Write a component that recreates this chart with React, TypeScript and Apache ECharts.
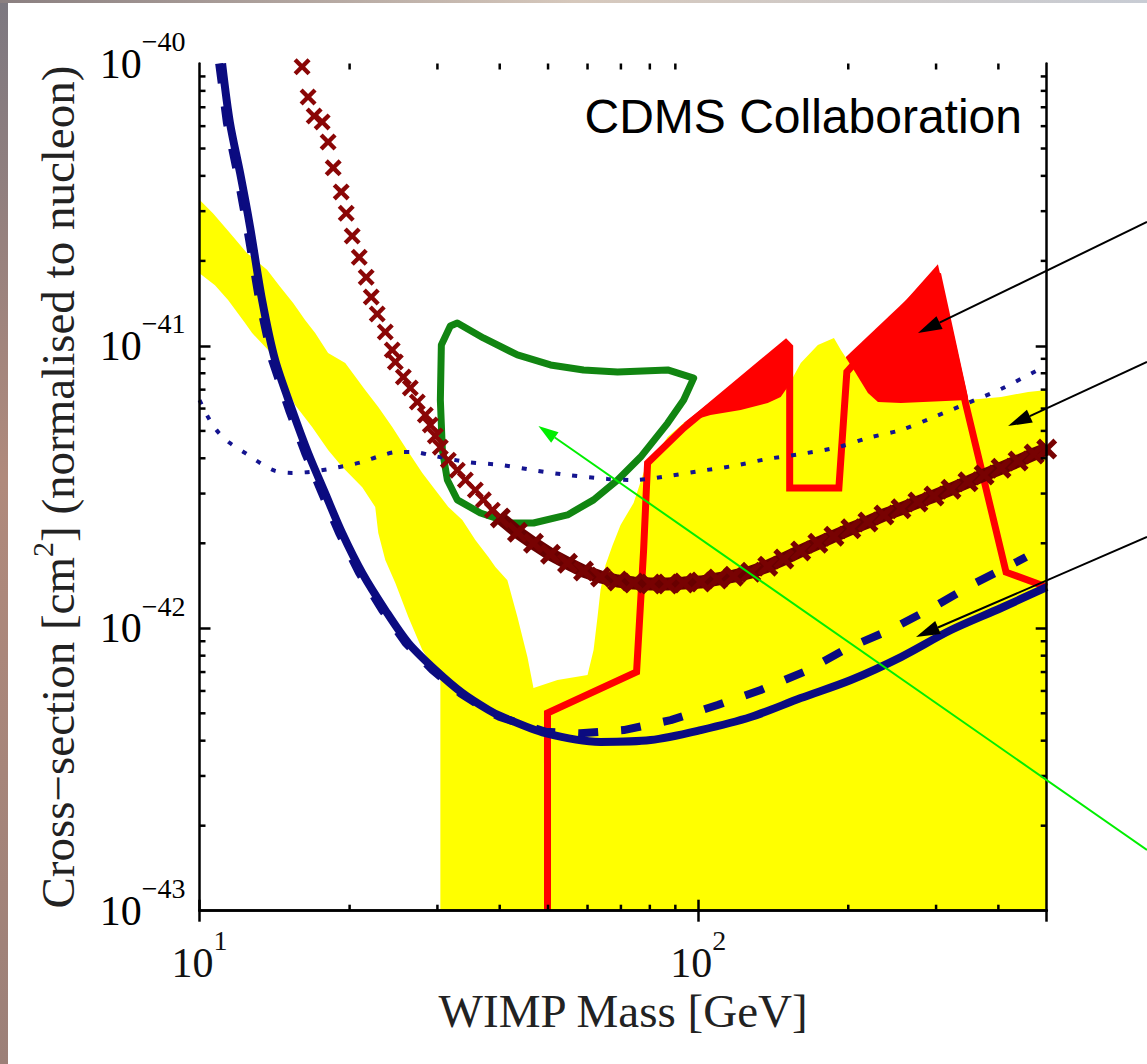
import React, { useEffect, useRef } from 'react';
import * as echarts from 'echarts';

const W = 1147;
const H = 1064;

// ---- axes ----
const massRange = [10, 500];
const sigmaRange = [1e-43, 1e-40];
const sigmaMajorTicks = [1e-43, 1e-42, 1e-41, 1e-40];
const sigmaTickExponents = ['\u221243', '\u221242', '\u221241', '\u221240'];
const minorMassTicks = [20, 30, 40, 50, 60, 70, 80, 90, 200, 300, 400];
const minorSigmaTicks = [
  2e-43, 3e-43, 4e-43, 5e-43, 6e-43, 7e-43, 8e-43, 9e-43,
  2e-42, 3e-42, 4e-42, 5e-42, 6e-42, 7e-42, 8e-42, 9e-42,
  2e-41, 3e-41, 4e-41, 5e-41, 6e-41, 7e-41, 8e-41, 9e-41,
];

// ---- series [mass GeV, cross-section cm^2] ----
const cdmsSolid = [
  [11.1, 1.0e-40], [11.51, 6.16e-41], [12.06, 4.1e-41], [12.63, 2.64e-41], [13.35, 1.455e-41],
  [14.18, 8.91e-42], [15.34, 5.93e-42], [16.51, 4.18e-42], [17.86, 3.01e-42], [19.32, 2.175e-42],
  [21.2, 1.57e-42], [23.58, 1.16e-42], [26.23, 8.87e-43], [29.71, 7.12e-43], [33.66, 5.9e-43],
  [37.96, 5.14e-43], [40.12, 4.89e-43], [49.41, 4.25e-43], [63.71, 3.96e-43], [80.28, 4.02e-43],
  [101.2, 4.36e-43], [127.5, 4.85e-43], [160.6, 5.66e-43], [202.4, 6.56e-43], [255.1, 7.91e-43],
  [321.4, 9.86e-43], [405, 1.18e-42], [500, 1.4e-42],
];

const cdmsDashed = [
  [10.95, 1.0e-40], [11.35, 6.16e-41], [11.9, 4.1e-41], [12.45, 2.64e-41], [13.17, 1.455e-41],
  [13.98, 8.91e-42], [15.12, 5.93e-42], [16.28, 4.18e-42], [17.6, 3.01e-42], [19.05, 2.175e-42],
  [20.9, 1.57e-42], [23.25, 1.16e-42], [25.9, 8.87e-43], [29.3, 7.12e-43], [33.3, 5.9e-43],
  [37.6, 5.14e-43], [40.0, 4.85e-43], [49.5, 4.3e-43], [58.0, 4.25e-43], [70.9, 4.36e-43],
  [88.1, 4.73e-43], [109.4, 5.35e-43], [133.5, 6.05e-43], [162.8, 7.0e-43], [199.6, 8.51e-43],
  [242.4, 9.86e-43], [294.4, 1.18e-42], [359.2, 1.446e-42], [436.1, 1.72e-42], [454.6, 1.79e-42],
];

const dottedLimit = [
  [10.0, 6.43e-42], [10.4, 5.6e-42], [10.89, 4.96e-42], [11.51, 4.53e-42], [12.34, 4.18e-42],
  [13.23, 3.85e-42], [14.18, 3.61e-42], [15.34, 3.55e-42], [16.67, 3.58e-42], [18.11, 3.66e-42],
  [19.6, 3.76e-42], [21.2, 3.88e-42], [23.04, 4.08e-42], [24.93, 4.21e-42], [26.84, 4.21e-42],
  [29.44, 4.08e-42], [34.44, 3.88e-42], [40.12, 3.79e-42], [46.75, 3.63e-42], [54.7, 3.49e-42],
  [65.81, 3.38e-42], [74.22, 3.35e-42], [86.87, 3.46e-42], [101.2, 3.61e-42], [117.8, 3.76e-42],
  [137.9, 3.98e-42], [160.6, 4.14e-42], [190.6, 4.38e-42], [219.0, 4.72e-42], [255.1, 5.04e-42],
  [297.1, 5.6e-42], [347.6, 6.28e-42], [405, 7.04e-42], [476.2, 8.15e-42], [500, 8.49e-42],
];

const crossesSparse = [
  [16.06, 9.74e-41], [16.51, 7.61e-41], [16.98, 6.52e-41], [17.62, 6.21e-41], [18.11, 5.27e-41],
  [18.54, 4.27e-41], [19.24, 3.51e-41], [19.69, 2.95e-41], [20.24, 2.45e-41], [20.91, 2.06e-41],
  [21.59, 1.75e-41], [22.1, 1.49e-41], [22.72, 1.297e-41], [23.58, 1.12e-41], [24.35, 9.67e-42],
  [24.7, 8.77e-42], [25.63, 7.76e-42], [26.47, 7.1e-42], [27.34, 6.33e-42], [28.37, 5.69e-42],
  [29.03, 5.25e-42], [29.71, 4.8e-42], [30.41, 4.38e-42], [31.55, 3.94e-42], [32.89, 3.63e-42],
  [34.13, 3.35e-42], [35.74, 3.09e-42], [37.09, 2.85e-42], [38.66, 2.62e-42],
];

const crossesBand = [
  [40.12, 2.46e-42], [43.41, 2.19e-42], [46.75, 2.0e-42], [50.57, 1.83e-42], [54.7, 1.7e-42],
  [58.9, 1.595e-42], [63.71, 1.52e-42], [68.93, 1.47e-42], [74.22, 1.446e-42], [80.28, 1.435e-42],
  [86.87, 1.435e-42], [93.52, 1.446e-42], [101.2, 1.458e-42], [109.4, 1.495e-42], [117.8, 1.53e-42],
  [127.5, 1.58e-42], [137.9, 1.66e-42], [148.5, 1.76e-42], [160.6, 1.88e-42], [173.8, 2.0e-42],
  [187.2, 2.12e-42], [202.4, 2.25e-42], [219.0, 2.38e-42], [235.8, 2.52e-42], [255.1, 2.65e-42],
  [275.9, 2.8e-42], [297.1, 2.94e-42], [321.4, 3.11e-42], [347.6, 3.3e-42], [374.5, 3.49e-42],
  [405, 3.69e-42], [438.1, 3.91e-42], [471.8, 4.14e-42], [500, 4.31e-42],
];

const yellowRegion = [
  [10.0, 3.29e-41], [10.64, 2.95e-41], [11.51, 2.51e-41], [12.46, 2.13e-41], [13.66, 1.86e-41],
  [14.51, 1.62e-41], [15.41, 1.42e-41], [16.28, 1.235e-41], [17.06, 1.11e-41], [18.11, 9.44e-42],
  [19.6, 8.7e-42], [21.49, 6.98e-42], [22.83, 6.08e-42], [24.35, 5.16e-42], [25.86, 4.38e-42],
  [27.98, 3.55e-42], [29.71, 3.09e-42], [31.55, 2.69e-42], [33.66, 2.42e-42], [35.74, 2.055e-42],
  [37.96, 1.79e-42], [39.21, 1.65e-42], [41.44, 1.48e-42], [43.41, 1.097e-42], [45.46, 7.91e-43],
  [46.75, 6.15e-43], [52.23, 6.56e-43], [60.0, 6.83e-43], [61.7, 8.38e-43], [62.83, 1.097e-42],
  [63.71, 1.367e-42], [65.2, 1.675e-42], [67.35, 1.97e-42], [69.89, 2.32e-42], [74.22, 2.78e-42],
  [78.45, 3.73e-42], [84.09, 4.38e-42], [86.87, 4.76e-42], [93.52, 5.33e-42], [105.9, 5.69e-42],
  [121.7, 5.93e-42], [137.9, 6.28e-42], [146.4, 6.59e-42], [151.2, 7.15e-42], [160.6, 8.7e-42],
  [173.8, 1.007e-41], [187.2, 1.067e-41], [193.3, 9.67e-42], [205.2, 8.22e-42], [219.0, 6.81e-42],
  [229.4, 6.33e-42], [255.1, 6.28e-42], [347.6, 6.43e-42], [405.0, 6.59e-42], [458.9, 6.87e-42],
  [500, 6.98e-42], [500, 1e-43], [30.41, 1e-43], [30.41, 6.72e-43], [27.98, 8.38e-43],
  [26.23, 1.097e-42], [24.7, 1.446e-42], [23.58, 1.745e-42], [22.83, 2.175e-42], [22.51, 2.69e-42],
  [21.2, 3.16e-42], [19.32, 3.73e-42], [18.11, 4.28e-42], [16.82, 5.16e-42], [15.55, 6.18e-42],
  [14.64, 7.76e-42], [13.73, 9.67e-42], [12.75, 1.11e-41], [12.34, 1.205e-41], [11.41, 1.455e-41],
  [10.74, 1.64e-41], [10.0, 1.81e-41],
];

const redFillA = [[93.52, 5.33e-42], [149.9, 1.024e-41], [153.3, 1.007e-41], [153.3, 4.96e-42], [93.52, 4.96e-42]];
const redFillB = [[197.8, 9.14e-42], [299.9, 1.83e-41], [306.9, 1.81e-41], [347.6, 6.59e-42], [347.6, 4.96e-42], [197.8, 4.96e-42]];

const redLimit = [
  [49.87, 1e-43], [49.87, 5.01e-43], [75.25, 7.0e-43], [77.73, 1.89e-42], [79.17, 3.85e-42],
  [93.52, 5.12e-42], [149.9, 1.024e-41], [152.6, 9.91e-42], [152.6, 3.14e-42], [191.5, 3.14e-42],
  [198.7, 8.08e-42], [299.9, 1.83e-41], [344.4, 6.18e-42], [414.5, 1.58e-42], [500, 1.4e-42],
];

const greenContour = [
  [30.55, 1.007e-41], [31.84, 1.176e-41], [32.89, 1.205e-41], [37.09, 1.067e-41], [43.41, 9.29e-42],
  [50.57, 8.56e-42], [58.9, 8.22e-42], [68.93, 8.08e-42], [86.87, 8.22e-42], [97.95, 7.69e-42],
  [93.52, 6.43e-42], [86.87, 5.33e-42], [76.65, 4.04e-42], [68.93, 3.35e-42], [61.7, 2.85e-42],
  [54.7, 2.52e-42], [46.75, 2.36e-42], [42.02, 2.36e-42], [36.58, 2.56e-42], [32.89, 2.85e-42],
  [31.41, 3.35e-42], [30.69, 4.28e-42], [30.41, 6.43e-42],
];

// annotation arrows: tail at the page edge (px), tip in data space
const arrowTails = [[1147, 222], [1147, 362], [1147, 537], [1147, 850]];
const arrowTips = [[275.9, 1.11e-41], [418.3, 5.2e-42], [273.4, 9.31e-43], [47.83, 5.2e-42]];
const arrowColors = ['#000000', '#000000', '#000000', '#00ee00'];

const SERIF = 'Liberation Serif, Times New Roman, serif';
const SANS = 'Liberation Sans, Arial, sans-serif';
const CROSS = 'path://M0,1.8 L1.8,0 L5,3.2 L8.2,0 L10,1.8 L6.8,5 L10,8.2 L8.2,10 L5,6.8 L1.8,10 L0,8.2 L3.2,5 Z';

function polygonSeries(pts: number[][], style: any, z: number) {
  return {
    type: 'custom',
    silent: true,
    z,
    data: pts,
    renderItem: (params: any, api: any) => {
      if (params.dataIndex !== 0) return null;
      const points = pts.map((p) => api.coord(p));
      return { type: 'polygon', shape: { points }, style };
    },
  };
}

export default function App() {
  const ref = useRef<HTMLDivElement>(null);
  useEffect(() => {
    const el = ref.current!;
    const chart = echarts.init(el, null, { renderer: 'svg' });

    const labelRich: any = {
      b: { fontFamily: SERIF, fontSize: 42, lineHeight: 72, color: '#111' },
      s: { fontFamily: SERIF, fontSize: 28, lineHeight: 28, verticalAlign: 'top', color: '#111' },
    };
    const isPow = (v: number) => {
      const e = Math.log10(v);
      return Math.abs(e - Math.round(e)) < 1e-6 ? Math.round(e) : null;
    };
    const tickStyle = { show: true, inside: true, length: 11, lineStyle: { color: '#000', width: 2.5 } };
    const lineStyleAxis = { show: true, lineStyle: { color: '#000', width: 2.5 } };

    const option: any = {
      animation: false,
      backgroundColor: '#ffffff',
      grid: { left: 199.5, top: 63.5, right: 100.3, bottom: 153.3, containLabel: false, outerBoundsMode: 'none' },
      xAxis: [
        {
          type: 'log', logBase: 10, min: massRange[0], max: massRange[1], z: 20,
          axisLine: lineStyleAxis, axisTick: tickStyle, splitLine: { show: false },
          axisLabel: {
            margin: 16, showMinLabel: true, showMaxLabel: false, hideOverlap: false,
            formatter: (v: number) => { const e = isPow(v); return e === null ? '' : `{b|10}{s|${e}}`; },
            rich: labelRich,
          },
          name: 'WIMP Mass [GeV]', nameLocation: 'middle', nameGap: 76, nameMoveOverlap: false,
          nameTextStyle: { fontFamily: SERIF, fontSize: 47, color: '#222', lineHeight: 48 },
        },
        {
          type: 'log', logBase: 10, min: massRange[0], max: massRange[1], position: 'top', z: 20,
          axisLine: lineStyleAxis, axisTick: tickStyle, axisLabel: { show: false }, splitLine: { show: false },
        },
      ],
      yAxis: [
        {
          type: 'log', logBase: 10, min: sigmaRange[0], max: sigmaRange[1], z: 20,
          axisLine: lineStyleAxis, axisTick: tickStyle, splitLine: { show: false },
          axisLabel: { show: false },
          name: 'Cross\u2212section [cm{sup|2}] (normalised to nucleon)', nameLocation: 'middle', nameGap: 112,
          nameMoveOverlap: false,
          nameTextStyle: {
            fontFamily: SERIF, fontSize: 47, color: '#222', lineHeight: 60,
            rich: { sup: { fontFamily: SERIF, fontSize: 30, lineHeight: 30, verticalAlign: 'top', color: '#222' } },
          },
        },
        {
          type: 'log', logBase: 10, min: sigmaRange[0], max: sigmaRange[1], position: 'right', z: 20,
          axisLine: lineStyleAxis, axisTick: tickStyle, axisLabel: { show: false }, splitLine: { show: false },
        },
      ],
      series: [
        polygonSeries(redFillA, { fill: '#ff0000' }, 1),
        polygonSeries(redFillB, { fill: '#ff0000' }, 1),
        polygonSeries(yellowRegion, { fill: '#ffff00' }, 2),
        {
          type: 'line', data: redLimit, z: 3, symbol: 'none', silent: true,
          lineStyle: { color: '#ff0000', width: 7, join: 'miter' },
        },
        polygonSeries(greenContour, { fill: 'none', stroke: '#118511', lineWidth: 7, lineJoin: 'round' }, 4),
        {
          type: 'line', data: dottedLimit, z: 5, symbol: 'none', silent: true, smooth: 0.3,
          lineStyle: { color: '#141490', width: 4, type: [5, 12] },
        },
        {
          type: 'line', data: crossesBand, z: 6, symbol: CROSS, symbolSize: 21, showSymbol: true, showAllSymbol: true, silent: true,
          itemStyle: { color: '#780202', opacity: 1 }, lineStyle: { color: '#680000', width: 13 },
        },
        {
          type: 'scatter', data: crossesSparse, z: 6, symbol: CROSS, symbolSize: 17, silent: true,
          itemStyle: { color: '#8a0606', opacity: 1 },
        },
        {
          type: 'line', data: cdmsDashed, z: 7, symbol: 'none', silent: true,
          lineStyle: { color: '#0b0b80', width: 8, type: [20, 23] },
        },
        {
          type: 'line', data: cdmsSolid, z: 8, symbol: 'none', silent: true, smooth: 0.3,
          lineStyle: { color: '#0b0b80', width: 8 },
        },
        {
          type: 'custom', z: 20, silent: true,
          data: minorMassTicks.map((m) => [m, sigmaRange[0]]),
          renderItem: (params: any, api: any) => {
            const v = api.value(0);
            const b = api.coord([v, sigmaRange[0]]);
            const t = api.coord([v, sigmaRange[1]]);
            const st = { stroke: '#000', lineWidth: 2.5 };
            return {
              type: 'group', children: [
                { type: 'line', shape: { x1: b[0], y1: b[1], x2: b[0], y2: b[1] - 6 }, style: st },
                { type: 'line', shape: { x1: t[0], y1: t[1], x2: t[0], y2: t[1] + 6 }, style: st },
              ],
            };
          },
        },
        {
          type: 'custom', z: 20, silent: true,
          data: minorSigmaTicks.map((s) => [massRange[0], s]),
          renderItem: (params: any, api: any) => {
            const v = api.value(1);
            const l = api.coord([massRange[0], v]);
            const r = api.coord([massRange[1], v]);
            const st = { stroke: '#000', lineWidth: 2.5 };
            return {
              type: 'group', children: [
                { type: 'line', shape: { x1: l[0], y1: l[1], x2: l[0] + 6, y2: l[1] }, style: st },
                { type: 'line', shape: { x1: r[0], y1: r[1], x2: r[0] - 6, y2: r[1] }, style: st },
              ],
            };
          },
        },
      ],
    };
    chart.setOption(option);

    const toPx = (v: number[]) => chart.convertToPixel({ xAxisIndex: 0, yAxisIndex: 0 }, v) as unknown as number[];
    const graphics: any[] = [];
    graphics.push({
      type: 'rect', z: 200, silent: true, shape: { x: 0, y: 0, width: 8, height: H },
      style: {
        fill: new echarts.graphic.LinearGradient(0, 0, 0, 1, [
          { offset: 0, color: '#7c7880' }, { offset: 0.45, color: '#b08a7c' }, { offset: 1, color: '#9c8078' },
        ]),
      },
    });
    graphics.push({
      type: 'rect', z: 200, silent: true, shape: { x: 0, y: 0, width: W, height: 3 },
      style: {
        fill: new echarts.graphic.LinearGradient(0, 0, 1, 0, [
          { offset: 0, color: '#8a7f80' }, { offset: 0.5, color: '#d6c8bc' }, { offset: 1, color: '#c8ccd4' },
        ]),
      },
    });
    // y tick labels placed on the y axis scale
    sigmaMajorTicks.forEach((s, i) => {
      const p = toPx([massRange[0], s]);
      graphics.push({
        type: 'text', z: 150, silent: true, x: p[0] - 14, y: p[1],
        style: {
          text: `{b|10}{s|${sigmaTickExponents[i]}}`, rich: labelRich,
          align: 'right', verticalAlign: 'middle',
        },
      });
    });
    graphics.push({
      type: 'text', z: 150, silent: true, x: 1022, y: 116,
      style: { text: 'CDMS Collaboration', font: `48px ${SANS}`, fill: '#000', align: 'right', verticalAlign: 'middle' },
    });
    arrowTails.forEach((tail, i) => {
      const tip = toPx(arrowTips[i]);
      const color = arrowColors[i];
      const green = i === 3;
      const L = green ? 20 : 24;
      const hw = green ? 6.5 : 7;
      const dx = tip[0] - tail[0];
      const dy = tip[1] - tail[1];
      const len = Math.hypot(dx, dy);
      const ux = dx / len, uy = dy / len;
      const nx = -uy, ny = ux;
      const bx = tip[0] - ux * L, by = tip[1] - uy * L;
      graphics.push({
        type: 'line', z: 150, silent: true,
        shape: { x1: tail[0], y1: tail[1], x2: bx, y2: by },
        style: { stroke: color, lineWidth: 2 },
      });
      graphics.push({
        type: 'polygon', z: 150, silent: true,
        shape: { points: [[tip[0], tip[1]], [bx + nx * hw, by + ny * hw], [bx - nx * hw, by - ny * hw]] },
        style: { fill: color },
      });
    });
    chart.setOption({ graphic: graphics });

    return () => chart.dispose();
  }, []);
  return (
    <div
      ref={ref}
      style={{ position: 'fixed', left: 0, top: 0, width: W, height: H, background: '#fff' }}
    />
  );
}
